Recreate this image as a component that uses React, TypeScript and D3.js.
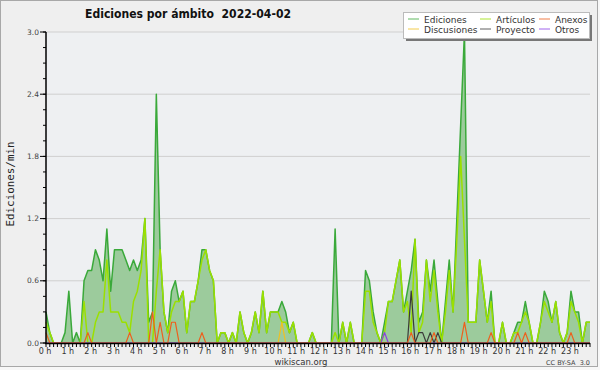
import React from "react";
import * as d3 from "d3";

const title = "Ediciones por ámbito  2022-04-02";
const yLabel = "Ediciones/min";
const hourLabels = ["0 h","1 h","2 h","3 h","4 h","5 h","6 h","7 h","8 h","9 h","10 h","11 h","12 h","13 h","14 h","15 h","16 h","17 h","18 h","19 h","20 h","21 h","22 h","23 h"];
const yTickValues = [0, 0.6, 1.2, 1.8, 2.4, 3.0];
const yTickLabels = ["0.0", "0.6", "1.2", "1.8", "2.4", "3.0"];

// 10-minute samples, edits per minute
const ediciones = [
  0.3,0.1,0,0,0,0.1,0.5,0,0.1,0,0.6,0.7,
  0.7,0.9,0.8,0.6,1.1,0.5,0.9,0.9,0.9,0.8,0.7,0.8,
  0.7,0.8,1.2,0.2,0.3,2.4,0.9,0.3,0.1,0.5,0.6,0.4,
  0.5,0.1,0.4,0.4,0.6,0.9,0.9,0.7,0.6,0,0.1,0.1,
  0,0.1,0,0.3,0.1,0,0.1,0.3,0.1,0.5,0.1,0.3,
  0.3,0.3,0.4,0.3,0.1,0.2,0,0,0,0,0.1,0,
  0,0,0,0,1.1,0,0.2,0,0.2,0,0,0,
  0.7,0.6,0.3,0.1,0,0.2,0.4,0.4,0.6,0.8,0.3,0.5,
  0.7,1.0,0.2,0.3,0.8,0.5,0.8,0.4,0,0.4,0.8,0.3,
  1.2,2.1,3.0,0.2,0.2,0.2,0.8,0.5,0.2,0.5,0,0,
  0.2,0,0,0.1,0.2,0.2,0.4,0.2,0,0,0.2,0.5,
  0.4,0.2,0.4,0.1,0,0.1,0.5,0.3,0.3,0,0.2,0.2,
];
const articulos = [
  0.2,0.1,0,0,0,0,0,0,0,0,0.4,0,
  0,0.2,0.3,0.3,0.8,0.3,0.3,0.3,0.2,0.2,0.1,0.4,
  0.5,0.7,1.2,0,0,0.5,0.9,0.3,0.1,0.3,0.4,0.4,
  0.5,0.1,0.4,0.4,0.6,0.8,0.9,0.7,0.6,0,0.1,0.1,
  0,0.1,0,0.3,0.1,0,0.1,0.3,0.1,0.5,0.1,0.3,
  0.3,0.3,0.2,0.2,0.1,0.2,0,0,0,0,0.1,0,
  0,0,0,0,0.1,0,0.2,0,0.2,0,0,0,
  0.5,0.5,0.2,0.1,0,0.1,0.4,0.4,0.6,0.8,0.3,0.4,
  0.1,1.0,0.1,0.2,0.8,0.4,0.7,0.3,0,0.3,0.7,0.3,
  1.0,1.8,1.0,0.2,0.2,0.2,0.8,0.5,0.2,0.4,0,0,
  0.2,0,0,0.1,0.1,0.2,0.3,0.2,0,0,0.2,0.4,
  0.3,0.2,0.4,0.1,0,0.1,0.4,0.3,0.2,0,0.2,0.2,
];
const anexos = [
  0.1,0,0,0,0,0,0,0,0,0,0,0.1,
  0,0,0,0,0,0,0,0,0,0,0.1,0,
  0,0,0,0,0.3,0,0.2,0,0,0.2,0.2,0,
  0,0,0,0,0,0.1,0,0,0,0,0,0,
  0,0,0,0,0,0,0,0,0,0,0,0,
  0,0,0,0,0,0,0,0,0,0,0,0,
  0,0,0,0,0,0,0,0,0,0,0,0,
  0,0,0,0,0,0,0,0,0,0,0,0,
  0.1,0,0,0,0,0,0.1,0,0,0,0,0,
  0,0,0.2,0,0,0,0,0,0,0.1,0,0,
  0,0,0,0,0.1,0,0.1,0,0,0,0,0,
  0,0,0,0,0,0,0.1,0,0,0,0,0,
];
const discusiones = [
  0,0,0,0,0,0,0,0,0,0,0,0,
  0,0,0,0,0,0,0,0,0,0,0,0,
  0,0,0,0,0,0,0,0,0,0,0,0,
  0,0,0,0,0,0,0,0,0,0,0,0,
  0,0,0,0,0,0,0,0,0,0,0,0,
  0,0,0.2,0,0,0,0,0,0,0,0,0,
  0,0,0,0,0,0,0,0,0,0,0,0,
  0,0,0,0,0,0,0,0,0,0,0,0,
  0,0,0,0,0,0,0,0,0,0,0,0,
  0,0,0,0,0,0,0,0,0,0,0,0,
  0,0,0,0,0,0,0,0,0,0,0,0,
  0,0,0,0,0,0,0,0,0,0,0,0,
];
const proyecto = [
  0,0,0,0,0,0,0,0,0,0,0,0,
  0,0,0,0,0,0,0,0,0,0,0,0,
  0,0,0,0,0,0,0,0,0,0,0,0,
  0,0,0,0,0,0,0,0,0,0,0,0,
  0,0,0,0,0,0,0,0,0,0,0,0,
  0,0,0,0,0,0,0,0,0,0,0,0,
  0,0,0,0,0,0,0,0,0,0,0,0,
  0,0,0,0,0,0,0,0,0,0,0,0,
  0.5,0,0.1,0.1,0,0.1,0,0.1,0,0,0,0,
  0,0,0,0,0,0,0,0,0,0,0,0,
  0,0,0,0,0,0,0,0,0,0,0,0,
  0,0,0,0,0,0,0,0,0,0,0,0,
];
const otros = [
  0,0,0,0,0,0,0,0,0,0,0,0,
  0,0,0,0,0,0,0,0,0,0,0,0,
  0,0,0,0,0,0,0,0,0,0,0,0,
  0,0,0,0,0,0,0,0,0,0,0,0,
  0,0,0,0,0,0,0,0,0,0,0,0,
  0,0,0,0,0,0,0,0,0,0,0,0,
  0,0,0,0,0,0,0,0,0,0,0,0,
  0,0,0,0,0,0.1,0,0,0,0,0,0,
  0,0,0,0,0,0,0,0,0,0,0,0,
  0,0,0,0,0,0,0,0,0,0,0,0,
  0,0,0,0,0,0,0,0,0,0,0,0,
  0,0,0,0,0,0,0,0,0,0,0,0,
];

const seriesNames = ["Ediciones", "Artículos", "Anexos", "Discusiones", "Proyecto", "Otros"];
const seriesColors = ["#3aa93a", "#9be000", "#ee5f1c", "#f0c020", "#3a3a3a", "#8a3ee8"];
const seriesData = [ediciones, articulos, anexos, discusiones, proyecto, otros];
const legendOrder = [0, 1, 2, 3, 4, 5];

const W = 600, H = 370;
const L = 46, R = 590, T = 32, B = 343;

export default function App() {
  const n = ediciones.length;
  const x = d3.scaleLinear().domain([0, n - 1]).range([L, R]);
  const y = d3.scaleLinear().domain([0, 3]).range([B, T]);
  const line = d3.line<number>().x((_, i) => x(i)).y((d) => y(d));
  const area = d3.area<number>().x((_, i) => x(i)).y0(y(0)).y1((d) => y(d));
  const minorY = d3.range(0, 3.0001, 0.15);
  const font = "'DejaVu Sans', Verdana, sans-serif";

  const drawOrder = [1, 3, 4, 5, 2];

  return (
    <svg width={W} height={H} style={{ position: "absolute", left: 0, top: 0 }} xmlns="http://www.w3.org/2000/svg">
      <rect x={0} y={0} width={W} height={H} fill="#f7f7f7" />
      <rect x={0.5} y={0.5} width={597} height={366} fill="#efefef" stroke="#a8a8a8" />
      <rect x={L} y={T} width={R - L} height={B - T} fill="#eef0f2" />
      {yTickValues.map((v) => (
        <line key={"g" + v} x1={L} x2={R} y1={y(v)} y2={y(v)} stroke="#cfcfcf" strokeWidth={1} />
      ))}
      <path d={area(ediciones) || ""} fill="#9ccb9c" stroke="none" />
      <path d={line(ediciones) || ""} fill="none" stroke={seriesColors[0]} strokeWidth={1.5} strokeLinejoin="round" />
      {drawOrder.map((k) => (
        <path key={k} d={line(seriesData[k]) || ""} fill="none" stroke={seriesColors[k]} strokeWidth={k === 1 ? 1.5 : 1.2} strokeLinejoin="round" />
      ))}
      <line x1={L} x2={L} y1={T} y2={B + 0.5} stroke="#000" strokeWidth={1.5} />
      <line x1={L - 1} x2={R} y1={B + 0.5} y2={B + 0.5} stroke="#000" strokeWidth={1.5} />
      {minorY.map((v, i) => (
        <line key={"my" + i} x1={L - 3} x2={L} y1={y(v)} y2={y(v)} stroke="#000" strokeWidth={1} />
      ))}
      {yTickValues.map((v, i) => (
        <g key={"yt" + v}>
          <line x1={L - 6} x2={L} y1={y(v)} y2={y(v)} stroke="#000" strokeWidth={1} />
          <text x={L - 7} y={y(v) + 2.6} textAnchor="end" fontSize={7.5} fontFamily={font} fill="#444">{yTickLabels[i]}</text>
        </g>
      ))}
      {d3.range(n).map((i) => (
        <line key={"xt" + i} x1={x(i)} x2={x(i)} y1={B} y2={B + 4} stroke="#000" strokeWidth={1} />
      ))}
      {hourLabels.map((lab, h) => (
        <text key={lab} x={x(h * 6) - 1} y={353.5} textAnchor="middle" fontSize={8} fontFamily={font} fill="#333">{lab}</text>
      ))}
      <text x={188} y={18} textAnchor="middle" fontSize={13} fontWeight="bold" fontFamily={font} fill="#111" textLength={206} lengthAdjust="spacingAndGlyphs" style={{ whiteSpace: "pre" }} xmlSpace="preserve">{title}</text>
      <text transform={`translate(13.5,184) rotate(-90)`} textAnchor="middle" fontSize={11} fontFamily="'DejaVu Sans Mono', monospace" fill="#222" textLength={85} lengthAdjust="spacingAndGlyphs">{yLabel}</text>
      <text x={301} y={365} textAnchor="middle" fontSize={8.5} fontFamily={font} fill="#333">wikiscan.org</text>
      <text x={590} y={365} textAnchor="end" fontSize={6.5} fontFamily={font} fill="#444" style={{ whiteSpace: "pre" }}>CC BY-SA  3.0</text>
      <rect x={406} y={15} width={186} height={26} fill="#777" />
      <rect x={403.5} y={12.5} width={186} height={26} fill="#fff" stroke="#bbb" />
      {legendOrder.map((k, j) => {
        const col = j % 3, row = Math.floor(j / 3);
        const lx = [408, 480, 539][col];
        const ly = [19, 29][row];
        return (
          <g key={"lg" + k}>
            <line x1={lx} x2={lx + 11} y1={ly} y2={ly} stroke={seriesColors[k]} strokeWidth={1} opacity={0.8} />
            <text x={lx + 16} y={ly + 3.5} fontSize={9} fontFamily={font} fill="#333">{seriesNames[k]}</text>
          </g>
        );
      })}
    </svg>
  );
}
